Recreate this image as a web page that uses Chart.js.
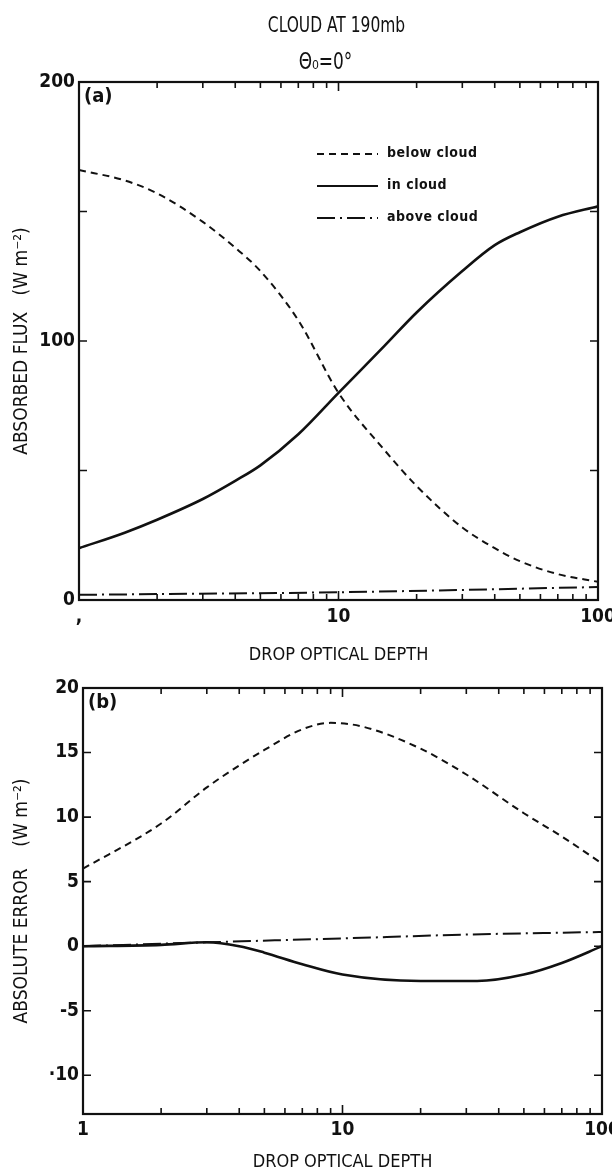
<!DOCTYPE html>
<html>
<head>
<meta charset="utf-8">
<script src="https://cdn.jsdelivr.net/npm/chart.js@4.4.1/dist/chart.umd.min.js"></script>
<style>
  html, body { margin: 0; padding: 0; background: #fff; }
  .box { position: relative; width: 612px; }
  #wrapA { height: 668px; }
  #wrapB { height: 507px; }
</style>
</head>
<body>
<div class="box" id="wrapA"><canvas id="chartA"></canvas></div>
<div class="box" id="wrapB"><canvas id="chartB"></canvas></div>
<script>
// panel (a): absorbed flux
const tauA = [1, 1.5, 2, 3, 4, 5, 7, 10, 15, 20, 30, 40, 50, 70, 100];
const belowA = [166, 162, 157, 146, 136, 127, 108, 80, 58, 44, 28, 20, 15, 10, 7];
const inA = [20, 26, 31, 39, 46, 52, 64, 80, 98, 111, 127, 137, 142, 148, 152];
const tauAboveA = [1, 10, 100];
const aboveA = [2, 3, 5];

// panel (b): absolute error
const tauBelowB = [1, 2, 3, 4, 5, 7, 9, 12, 20, 30, 50, 70, 100];
const belowB = [6, 9.5, 12.3, 14, 15.2, 16.8, 17.3, 17, 15.3, 13.3, 10.3, 8.5, 6.4];
const tauInB = [1, 2, 3, 4, 5, 7, 10, 20, 33, 50, 70, 100];
const inB = [0, 0.1, 0.3, 0, -0.5, -1.4, -2.2, -2.7, -2.7, -2.2, -1.3, 0];
const tauAboveB = [1, 3, 10, 30, 100];
const aboveB = [0, 0.3, 0.6, 0.9, 1.1];

const xLabels = [1, 10, 100];
const yTicksA = [0, 100, 200];
const yTicksB = [-10, -5, 0, 5, 10, 15, 20];

const FONT = "'Liberation Sans Narrow', 'DejaVu Sans Condensed', sans-serif";
const INK = '#111';

const pts = (xs, ys) => xs.map((x, i) => ({ x: x, y: ys[i] }));

// box, inward ticks and panel letter
function frameTicks(opts) {
  return {
    id: 'frameTicks',
    afterDatasetsDraw(chart) {
      const { ctx, chartArea: a, scales } = chart;
      const xs = scales.x, ys = scales.y;
      ctx.save();
      ctx.strokeStyle = INK;
      ctx.lineWidth = 2.2;
      ctx.strokeRect(a.left, a.top, a.right - a.left, a.bottom - a.top);
      ctx.lineWidth = 1.6;
      for (let d = 1; d <= 100; d *= 10) {
        for (let m = 1; m < 10; m++) {
          const v = d * m;
          if (v > 100) break;
          const px = xs.getPixelForValue(v);
          const len = m === 1 ? 9 : 6;
          ctx.beginPath();
          ctx.moveTo(px, a.bottom); ctx.lineTo(px, a.bottom - len);
          ctx.moveTo(px, a.top); ctx.lineTo(px, a.top + len);
          ctx.stroke();
        }
      }
      opts.yTicks.forEach(v => {
        const py = ys.getPixelForValue(v);
        ctx.beginPath();
        ctx.moveTo(a.left, py); ctx.lineTo(a.left + 8, py);
        ctx.moveTo(a.right, py); ctx.lineTo(a.right - 8, py);
        ctx.stroke();
      });
      ctx.fillStyle = INK;
      ctx.font = 'bold 20px ' + FONT;
      ctx.textBaseline = 'top';
      ctx.fillText(opts.letter, a.left + 5, a.top + 5);
      ctx.restore();
    }
  };
}

// squeezed text, the scan uses a very narrow face
function narrowText(ctx, text, x, y, sx) {
  ctx.save();
  ctx.translate(x, y);
  ctx.scale(sx, 1);
  ctx.fillText(text, 0, 0);
  ctx.restore();
}

const titlePlugin = {
  id: 'titles',
  afterDraw(chart) {
    const { ctx, chartArea: a } = chart;
    const cx = (a.left + a.right) / 2;
    ctx.save();
    ctx.fillStyle = INK;
    ctx.textAlign = 'center';
    ctx.textBaseline = 'middle';
    ctx.font = '21px ' + FONT;
    narrowText(ctx, 'CLOUD AT 190mb', cx - 2, 27, 0.82);
    ctx.font = '23px ' + FONT;
    narrowText(ctx, '\u0398\u2080=0\u00b0', cx - 13, 63, 0.82);
    ctx.restore();
  }
};

const legendPlugin = {
  id: 'legendA',
  afterDraw(chart) {
    const { ctx } = chart;
    const items = [
      ['below cloud', [7, 5]],
      ['in cloud', []],
      ['above cloud', [18, 5, 2, 5]]
    ];
    const x0 = 317, x1 = 378;
    ctx.save();
    ctx.fillStyle = INK;
    ctx.strokeStyle = INK;
    ctx.lineWidth = 1.8;
    ctx.font = 'bold 14px ' + FONT;
    ctx.letterSpacing = '0.5px';
    ctx.textBaseline = 'middle';
    items.forEach((it, i) => {
      const y = 154 + i * 32;
      ctx.setLineDash(it[1]);
      ctx.beginPath();
      ctx.moveTo(x0, y); ctx.lineTo(x1, y);
      ctx.stroke();
      ctx.fillText(it[0], x1 + 9, y - 1);
    });
    ctx.restore();
  }
};

function xAxis(height, tickPad, tickCb) {
  return {
    type: 'logarithmic',
    min: 1,
    max: 100,
    grid: { display: false, drawTicks: false },
    border: { display: false },
    afterBuildTicks: s => { s.ticks = xLabels.map(v => ({ value: v })); },
    afterFit: s => { s.height = height; s.paddingLeft = 0; s.paddingRight = 0; },
    ticks: {
      color: INK,
      font: { family: FONT, size: 19, weight: 'bold' },
      padding: tickPad,
      maxRotation: 0,
      autoSkip: false,
      callback: tickCb
    },
    title: {
      display: true,
      text: 'DROP OPTICAL DEPTH',
      color: INK,
      font: { family: FONT, size: 18 },
      padding: { top: 0, bottom: 2 }
    }
  };
}

function yAxis(min, max, ticks, width, titleText) {
  return {
    min: min,
    max: max,
    grid: { display: false, drawTicks: false },
    border: { display: false },
    afterBuildTicks: s => { s.ticks = ticks.map(v => ({ value: v })); },
    afterFit: s => { s.width = width; s.paddingTop = 0; s.paddingBottom = 0; },
    ticks: {
      color: INK,
      font: { family: FONT, size: 19, weight: 'bold' },
      padding: 4,
      callback: v => (v === -10 ? '\u00b710' : String(v))
    },
    title: {
      display: true,
      text: titleText,
      color: INK,
      font: { family: FONT, size: 19 },
      padding: { top: 11 }
    }
  };
}

const common = {
  responsive: true,
  maintainAspectRatio: false,
  animation: false,
  plugins: { legend: { display: false }, tooltip: { enabled: false } },
  elements: { point: { radius: 0 } }
};

const styles = [
  { borderWidth: 2, borderDash: [7, 5] },
  { borderWidth: 2.6, borderDash: [] },
  { borderWidth: 2, borderDash: [18, 5, 2, 5] }
];

function sets(list) {
  return list.map((d, i) => Object.assign({
    label: ['below cloud', 'in cloud', 'above cloud'][i],
    data: d,
    borderColor: INK,
    cubicInterpolationMode: 'monotone'
  }, styles[i]));
}

new Chart(document.getElementById('chartA'), {
  type: 'line',
  data: { datasets: sets([pts(tauA, belowA), pts(tauA, inA), pts(tauAboveA, aboveA)]) },
  options: Object.assign({}, common, {
    layout: { padding: { top: 82, right: 14, left: 0, bottom: 0 } },
    scales: {
      x: xAxis(68, 6, v => (v === 1 ? ',' : String(v))),
      y: yAxis(0, 200, yTicksA, 79, 'ABSORBED FLUX   (W m\u207b\u00b2)')
    }
  }),
  plugins: [frameTicks({ yTicks: [0, 50, 100, 150, 200], letter: '(a)' }), titlePlugin, legendPlugin]
});

new Chart(document.getElementById('chartB'), {
  type: 'line',
  data: { datasets: sets([pts(tauBelowB, belowB), pts(tauInB, inB), pts(tauAboveB, aboveB)]) },
  options: Object.assign({}, common, {
    layout: { padding: { top: 20, right: 10, left: 0, bottom: 0 } },
    scales: {
      x: xAxis(61, 5, v => String(v)),
      y: yAxis(-13, 20, yTicksB, 83, 'ABSOLUTE ERROR    (W m\u207b\u00b2)')
    }
  }),
  plugins: [frameTicks({ yTicks: yTicksB, letter: '(b)' })]
});
</script>
</body>
</html>
